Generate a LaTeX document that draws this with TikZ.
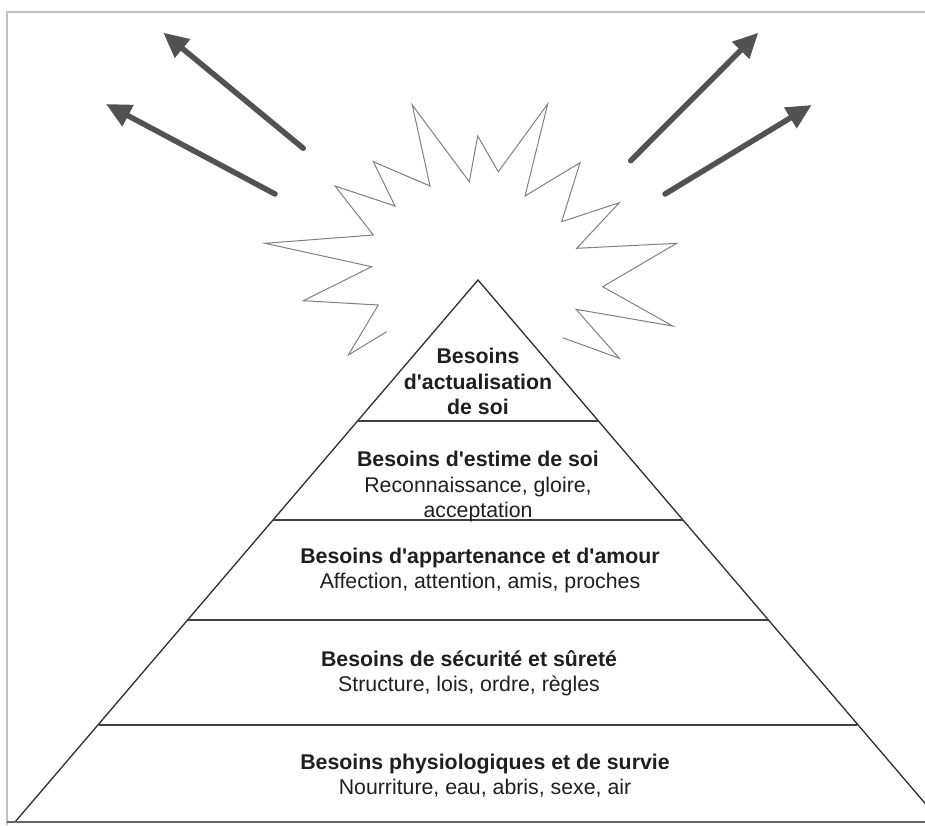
\documentclass[tikz,border=0pt]{standalone}
\usepackage{fontspec}
\setmainfont{Liberation Sans}
\usetikzlibrary{arrows.meta}
\newcommand\sq{\XeTeXglyph\XeTeXglyphindex "quotesingle"\relax}
\begin{document}
\begin{tikzpicture}[x=1pt,y=-1pt,
  tier/.style={align=center, text=black!88, font=\fontsize{21.3}{25.5}\selectfont, inner sep=0pt},
  ray/.style={line width=5.5pt, draw=black!68, line cap=round, -{Triangle[length=25pt,width=23pt]}},
  burst/.style={draw=black!50, line width=1pt, line join=miter},
  edge/.style={draw=black!82, line width=1.3pt},
  shelf/.style={draw=black!75, line width=1.8pt},
  frame/.style={draw=black!25, line width=1.6pt},
]
\useasboundingbox (0,0) rectangle (925,825);
\begin{scope}
\clip (0,0) rectangle (925,825);
% frame
\draw[frame] (7,825) -- (7,12) -- (925,12);
% arrows
\coordinate (r1s) at (303.3,148.3); \coordinate (r1e) at (163.3,32.7);
\coordinate (r2s) at (275,194);     \coordinate (r2e) at (106,104);
\coordinate (r3s) at (630.7,160.7); \coordinate (r3e) at (758.3,32.7);
\coordinate (r4s) at (665,194);     \coordinate (r4e) at (811.7,105);
\draw[ray] (r1s) -- (r1e);
\draw[ray] (r2s) -- (r2e);
\draw[ray] (r3s) -- (r3e);
\draw[ray] (r4s) -- (r4e);
% starburst
\draw[burst] (386.7,331.7) -- (348.3,355) -- (378.3,305) -- (303.3,300.7) -- (371.7,266.7)
  -- (265,243.3) -- (373.3,235) -- (335,186) -- (395,206) -- (373.3,161.7) -- (430,186)
  -- (412.3,105) -- (469.3,181.7) -- (477.7,136) -- (498.3,171.7) -- (547.7,104)
  -- (525,196) -- (580,162.7) -- (561.7,221.7) -- (619.3,202.7) -- (576.7,248.3)
  -- (676.7,243.3) -- (602.7,286.7) -- (672.7,326) -- (576,309.3) -- (619.3,358.3)
  -- (562.7,337.7);
% pyramid
\coordinate (apex) at (478,280);
\coordinate (bl) at (15,822);
\coordinate (br) at (941,822);
\fill[white] (apex) -- (bl) -- (br) -- cycle;
\draw[edge] (bl) -- (apex) -- (br);
\coordinate (l1) at (357.8,421); \coordinate (r1) at (598.2,421);
\coordinate (l2) at (273.4,520); \coordinate (r2) at (682.6,520);
\coordinate (l3) at (188.1,620); \coordinate (r3) at (767.9,620);
\coordinate (l4) at (98.6,725);  \coordinate (r4) at (857.4,725);
\draw[shelf] (l1) -- (r1);
\draw[shelf] (l2) -- (r2);
\draw[shelf] (l3) -- (r3);
\draw[shelf] (l4) -- (r4);
\draw[draw=black!60, line width=1.6pt] (7,822) -- (925,822);
% texts
\node[tier] (t5) at (478,381.5) {\textbf{Besoins}\\\textbf{d\sq actualisation}\\\textbf{de soi}};
\node[tier] (t4) at (478,486.5) {\textbf{Besoins d\sq estime de soi}\\Reconnaissance, gloire,\\acceptation};
\node[tier] (t3) at (480,570.5) {\textbf{Besoins d\sq appartenance et d\sq amour}\\Affection, attention, amis, proches};
\node[tier] (t2) at (469,673) {\textbf{Besoins de sécurité et sûreté}\\Structure, lois, ordre, règles};
\node[tier] (t1) at (485,775.5) {\textbf{Besoins physiologiques et de survie}\\Nourriture, eau, abris, sexe, air};
\end{scope}
\end{tikzpicture}
\end{document}
